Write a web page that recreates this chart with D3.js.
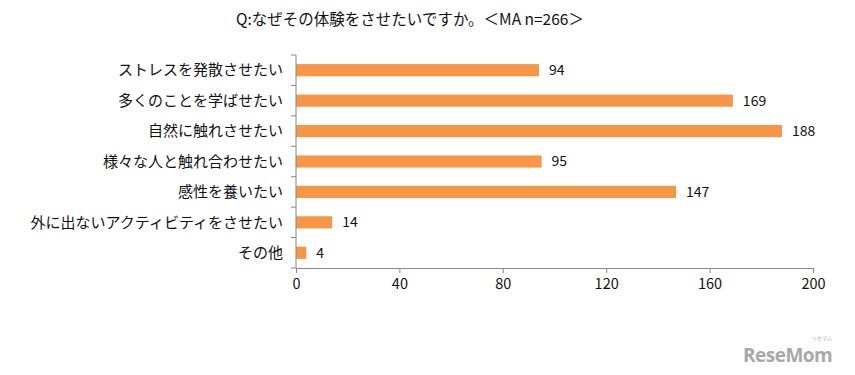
<!DOCTYPE html>
<meta charset="utf-8">
<head>
  <title>なぜその体験をさせたいですか</title>
  <script src="https://cdn.jsdelivr.net/npm/d3@7"></script>
  <style>
    body {margin: 0; background: #fff;}
    text {font-family: "Noto Sans CJK JP", sans-serif;}
  </style>
</head>
<body>
<div id="chart"></div>
<script>
// data
var categories = ["ストレスを発散させたい", "多くのことを学ばせたい", "自然に触れさせたい",
                  "様々な人と触れ合わせたい", "感性を養いたい", "外に出ないアクティビティをさせたい", "その他"];
var counts = [94, 169, 188, 95, 147, 14, 4];
var xTicks = [0, 40, 80, 120, 160, 200];

var width = 855, height = 375;
var plot = {left: 296, right: 813, top: 55, bottom: 268};

var svg = d3.select("#chart").append("svg")
    .attr("width", width)
    .attr("height", height);

// title
svg.append("text")
    .attr("x", 410)
    .attr("y", 25)
    .attr("text-anchor", "middle")
    .style("font-size", "15.5px")
    .attr("fill", "#111")
    .text("Q:なぜその体験をさせたいですか。＜MA n=266＞");

var x = d3.scaleLinear().domain([0, 200]).range([plot.left, plot.right]);
var y = d3.scaleBand().domain(categories).range([plot.top, plot.bottom]).paddingInner(0.6).paddingOuter(0.3);

// bars
svg.selectAll(".bar")
    .data(categories)
    .enter()
    .append("rect")
    .attr("class", "bar")
    .attr("x", x(0))
    .attr("y", function(d){ return y(d); })
    .attr("width", function(d, i){ return x(counts[i]) - x(0); })
    .attr("height", y.bandwidth())
    .attr("fill", "#F79646");

// value labels
svg.selectAll(".val")
    .data(categories)
    .enter()
    .append("text")
    .attr("class", "val")
    .attr("x", function(d, i){ return x(counts[i]) + 10; })
    .attr("y", function(d){ return y(d) + y.bandwidth() / 2; })
    .attr("dy", "0.35em")
    .style("font-size", "14px")
    .attr("fill", "#111")
    .text(function(d, i){ return counts[i]; });

// x axis
var xAxis = svg.append("g")
    .attr("transform", "translate(0," + plot.bottom + ")")
    .call(d3.axisBottom(x).tickValues(xTicks).tickSize(5).tickSizeOuter(0));
xAxis.select(".domain").attr("stroke", "#888");
xAxis.selectAll(".tick line").attr("stroke", "#888");
xAxis.selectAll(".tick text")
    .attr("y", 11)
    .style("font-size", "14.5px")
    .style("font-family", "'Noto Sans CJK JP', sans-serif")
    .attr("fill", "#111");

// y axis: line with ticks at band edges
var yEdges = d3.range(categories.length + 1).map(function(i){
    return plot.top + i * (plot.bottom - plot.top) / categories.length;
});
svg.append("line")
    .attr("x1", plot.left).attr("x2", plot.left)
    .attr("y1", plot.top).attr("y2", plot.bottom)
    .attr("stroke", "#888");
svg.selectAll(".ytick")
    .data(yEdges)
    .enter()
    .append("line")
    .attr("class", "ytick")
    .attr("x1", plot.left - 5).attr("x2", plot.left)
    .attr("y1", function(d){ return d; }).attr("y2", function(d){ return d; })
    .attr("stroke", "#888");

// category labels
svg.selectAll(".cat")
    .data(categories)
    .enter()
    .append("text")
    .attr("class", "cat")
    .attr("x", 283)
    .attr("y", function(d){ return y(d) + y.bandwidth() / 2; })
    .attr("dy", "0.35em")
    .attr("text-anchor", "end")
    .style("font-size", "15px")
    .attr("fill", "#111")
    .text(function(d){ return d; });

// watermark
svg.append("text")
    .attr("x", 743)
    .attr("y", 362)
    .style("font-family", "'Open Sans', sans-serif")
    .style("font-size", "19px")
    .style("font-weight", "bold")
    .style("letter-spacing", "-0.5px")
    .attr("fill", "#a8a8a8")
    .text("ReseMom");
svg.append("text")
    .attr("x", 812)
    .attr("y", 340)
    .style("font-size", "5px")
    .attr("fill", "#a8a8a8")
    .text("リセマム");
</script>
</body>
</html>
